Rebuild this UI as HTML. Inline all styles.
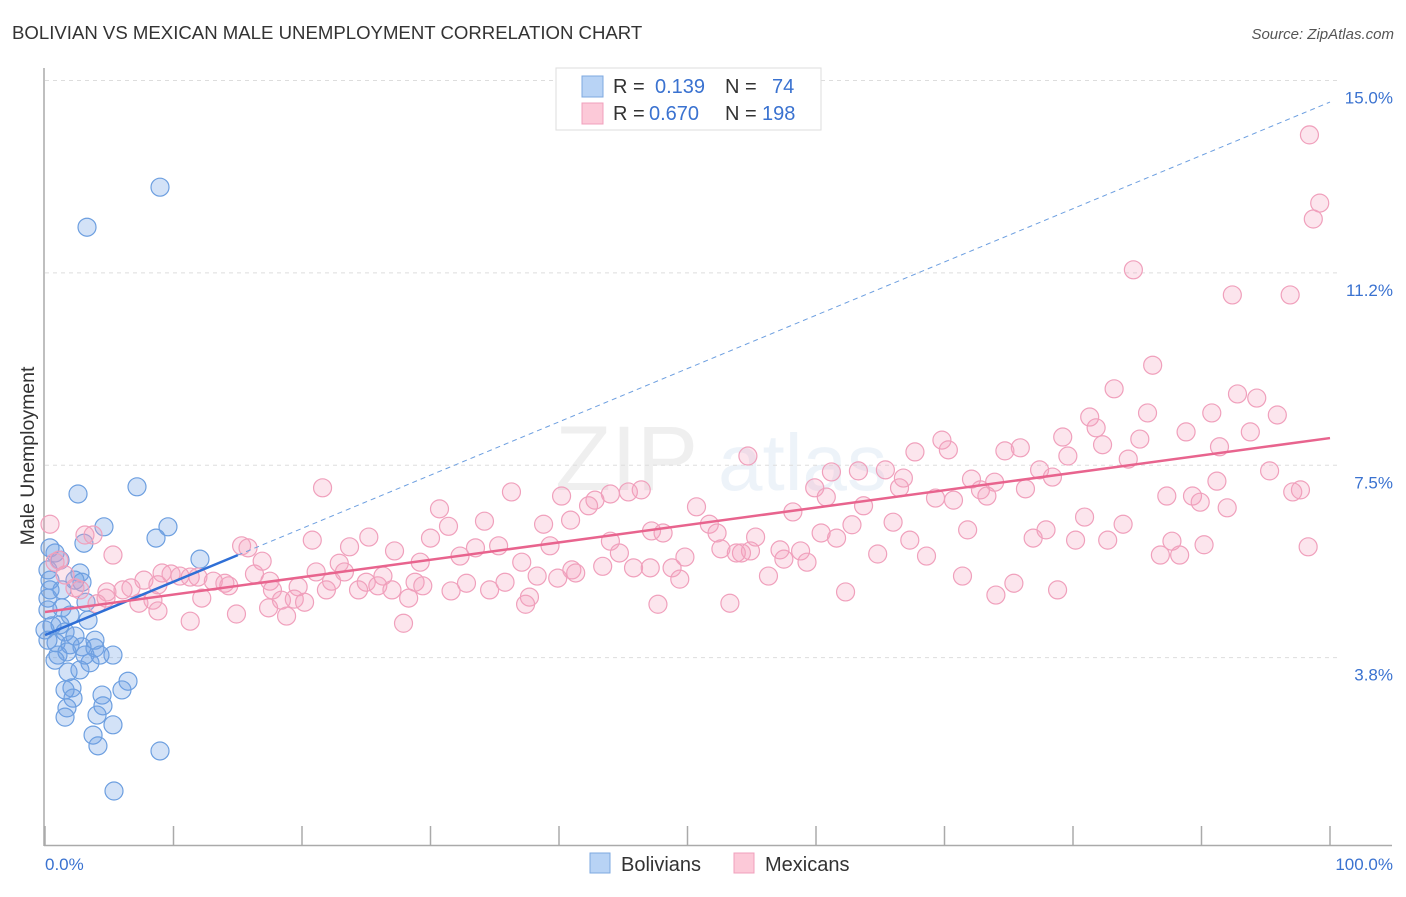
<!DOCTYPE html>
<html><head><meta charset="utf-8"><style>
body{margin:0;background:#fff;font-family:"Liberation Sans",sans-serif}
svg text{font-family:"Liberation Sans",sans-serif}
</style></head><body>
<svg id="c" width="1406" height="892" xmlns="http://www.w3.org/2000/svg">
<text x="12" y="39" font-size="18.6" fill="#333">BOLIVIAN VS MEXICAN MALE UNEMPLOYMENT CORRELATION CHART</text>
<text x="1394" y="39" font-size="15" fill="#555" font-style="italic" text-anchor="end">Source: ZipAtlas.com</text>
<g opacity="0.13"><text x="555" y="490" font-size="92" font-family="Liberation Serif" fill="#888">ZIP</text><text x="718" y="490" font-size="80" fill="#7aa7d8">atlas</text></g>
<g id="grid"></g>
<g id="axes"></g>
<g id="blue"></g>
<g id="pink"></g>
<g id="lines"></g>
<g>
<rect x="556" y="68" width="265" height="62" fill="#fff" stroke="#ddd"/>
<rect x="582" y="76" width="21" height="21" fill="#b8d3f5" stroke="#7ea8e0"/>
<rect x="582" y="103" width="21" height="21" fill="#fcc9d8" stroke="#f0a0bc"/>
<text x="613" y="93" font-size="20" fill="#333">R = </text><text x="655" y="93" font-size="20" fill="#3a72d0">0.139</text>
<text x="725" y="93" font-size="20" fill="#333">N = </text><text x="772" y="93" font-size="20" fill="#3a72d0">74</text>
<text x="613" y="120" font-size="20" fill="#333">R = </text><text x="649" y="120" font-size="20" fill="#3a72d0">0.670</text>
<text x="725" y="120" font-size="20" fill="#333">N = </text><text x="762" y="120" font-size="20" fill="#3a72d0">198</text>
</g>
<g>
<rect x="590" y="853" width="20" height="20" fill="#b8d3f5" stroke="#7ea8e0"/>
<text x="621" y="871" font-size="20" fill="#333">Bolivians</text>
<rect x="734" y="853" width="20" height="20" fill="#fcc9d8" stroke="#f0a0bc"/>
<text x="765" y="871" font-size="20" fill="#333">Mexicans</text>
</g>
<text transform="translate(34,456) rotate(-90)" font-size="19.5" fill="#333" text-anchor="middle">Male Unemployment</text>
</svg>
<script>
const yTicks=[3.75,7.5,11.25,15];
const yTickLabels=["3.8%","7.5%","11.2%","15.0%"];
const xTicks=[0,10,20,30,40,50,60,70,80,90,100];
const blueX=[8.95,3.27,2.57,7.16,4.59,9.57,8.64,3.03,12.06,0.78,1.17,0.23,2.72,2.88,0.39,1.32,3.19,0.23,0.23,1.32,3.35,0.54,1.56,2.33,3.89,0.86,1.95,2.88,3.89,5.29,1.01,1.71,3.5,1.79,2.72,6.46,2.1,1.56,5.99,4.44,2.18,4.51,1.71,4.05,1.56,5.29,3.74,4.12,8.95,5.37,0.39,0.23,0.78,3.11,4.28,1.17,1.95,0,0.39,2.33];
const blueY=[12.92,12.14,6.94,7.08,6.3,6.3,6.08,5.98,5.67,5.79,5.65,5.46,5.4,5.22,5.26,5.07,4.83,4.91,4.68,4.72,4.48,4.37,4.25,4.17,4.09,4.04,4.0,3.96,3.94,3.8,3.8,3.86,3.65,3.47,3.51,3.29,3.16,3.12,3.12,3.02,2.96,2.81,2.77,2.63,2.59,2.44,2.24,2.03,1.93,1.15,5.89,4.09,3.7,3.8,3.8,4.39,4.58,4.29,5.07,5.26];
const pinkX=[98.4,99.2,98.7,84.7,92.4,96.9,86.2,83.2,92.8,94.3,85.8,81.3,90.8,95.9,81.8,88.8,93.8,79.2,85.2,69.8,82.3,91.4,70.3,75.9,74.7,67.7,54.7,79.6,84.3,77.4,95.3,63.3,65.4,72.1,78.4,66.8,73.9,91.2,61.2,66.5,59.9,21.6,36.3,46.4,45.4,44.0,40.2,60.8,76.3,72.8,87.3,89.3,97.7,97.1,89.9,69.3,73.3,70.7,92.0,42.8,30.7,42.3,63.7,58.2,50.7,80.9,34.2,40.9,38.8,31.4,51.7,66.0,62.8,71.8,83.9,60.4,48.1,55.3,47.2,52.3,61.6,25.2,20.8,30.0,44.0,67.3,76.9,80.2,77.9,82.7,35.3,23.7,39.3,33.5,52.6,54.9,54.2,53.8,57.2,58.8,90.2,87.7,98.3,86.8,88.3,27.2,15.3,5.29,15.8,32.3,44.7,49.8,64.8,68.6,29.2,37.1,22.9,16.9,57.5,59.3,43.4,45.8,48.8,41.0,47.1,21.1,16.3,9.81,10.5,11.3,9.11,11.9,23.3,26.3,38.3,41.3,49.4,56.3,71.4,7.7,13.1,14.0,17.5,22.3,25.0,28.8,32.8,35.8,39.9,75.4,6.69,8.79,6.07,4.82,2.33,14.3,17.7,19.7,21.9,25.9,29.4,31.6,34.6,24.4,27.0,78.8,74.0,62.3,37.7,12.2,19.4,28.3,8.4,4.75,18.4,20.2,7.31,4.05,17.4,37.4,47.7,53.3,8.79,18.8,14.9,11.3,27.9,3.11,3.74,0.39,1.09,1.56,2.72,0.78];
const pinkY=[13.94,12.61,12.3,11.31,10.82,10.82,9.45,8.99,8.89,8.81,8.52,8.44,8.52,8.48,8.23,8.15,8.15,8.05,8.01,7.99,7.9,7.86,7.8,7.84,7.78,7.76,7.68,7.68,7.62,7.41,7.39,7.39,7.41,7.23,7.27,7.25,7.17,7.19,7.37,7.06,7.06,7.06,6.98,7.02,6.98,6.94,6.9,6.88,7.04,7.02,6.9,6.9,7.02,6.98,6.78,6.86,6.9,6.82,6.67,6.82,6.65,6.71,6.71,6.59,6.69,6.49,6.41,6.43,6.35,6.31,6.35,6.39,6.34,6.24,6.35,6.18,6.18,6.1,6.22,6.18,6.08,6.1,6.04,6.08,6.02,6.04,6.08,6.04,6.24,6.04,5.93,5.91,5.93,5.89,5.87,5.83,5.79,5.79,5.85,5.83,5.95,6.02,5.91,5.75,5.75,5.83,5.93,5.75,5.89,5.73,5.79,5.71,5.77,5.73,5.61,5.61,5.59,5.63,5.67,5.61,5.53,5.5,5.5,5.46,5.5,5.42,5.38,5.38,5.34,5.32,5.4,5.32,5.42,5.34,5.34,5.4,5.28,5.34,5.34,5.26,5.24,5.2,5.24,5.24,5.22,5.22,5.2,5.22,5.3,5.2,5.11,5.17,5.07,5.03,5.11,5.15,5.07,5.13,5.07,5.15,5.15,5.05,5.07,5.07,5.07,5.07,4.97,5.03,4.93,4.91,4.89,4.91,4.87,4.91,4.87,4.83,4.81,4.8,4.72,4.79,4.79,4.81,4.66,4.56,4.6,4.46,4.42,6.14,6.14,6.35,5.65,5.36,5.07,5.61];
const blueFit=[4.19,14.58];
const pinkFit=[4.64,8.03];
const NS="http://www.w3.org/2000/svg";
const X=v=>45+v*12.85, Y=v=>850-v*51.3;
function mk(p,t,a){const e=document.createElementNS(NS,t);for(const k in a)e.setAttribute(k,a[k]);document.getElementById(p).appendChild(e);return e;}
yTicks.forEach((t,i)=>{
 const l=mk('grid','line',{x1:45,x2:1340,y1:Y(t),y2:Y(t),stroke:'#ddd','stroke-dasharray':'4,4'});
 
 
 const tx=mk('grid','text',{x:1393,y:Y(t)+23,'font-size':17,fill:'#3a72d0','text-anchor':'end'});
 tx.textContent=yTickLabels[i];
 
 
});
mk('axes','line',{x1:44,x2:44,y1:68,y2:846,stroke:'#aaa','stroke-width':1.5});
mk('axes','line',{x1:44,x2:1392,y1:845.5,y2:845.5,stroke:'#aaa','stroke-width':1.5});
xTicks.forEach(t=>{const l=mk('axes','line',{x1:X(t),x2:X(t),y1:826,y2:845,stroke:'#aaa','stroke-width':1.5});
 
 });
let a=mk('axes','text',{x:45,y:870,'font-size':17,fill:'#3a72d0'});a.textContent='0.0%';

a=mk('axes','text',{x:1393,y:870,'font-size':17,fill:'#3a72d0','text-anchor':'end'});a.textContent='100.0%';

blueX.forEach((x,i)=>{const c=mk('blue','circle',{cx:X(x),cy:Y(blueY[i]),r:9,fill:'rgba(110,160,230,0.3)',stroke:'#6d9fe0','stroke-width':1.2});
 
 });
pinkX.forEach((x,i)=>{const c=mk('pink','circle',{cx:X(x),cy:Y(pinkY[i]),r:9,fill:'rgba(245,160,190,0.28)',stroke:'#f0a0bc','stroke-width':1.2});
 
 });
const bf=x=>blueFit[0]+(blueFit[1]-blueFit[0])*x/100, pf=x=>pinkFit[0]+(pinkFit[1]-pinkFit[0])*x/100;
let l=mk('lines','line',{x1:X(15),y1:Y(bf(15)),x2:X(100),y2:Y(bf(100)),stroke:'#6d9fe0','stroke-width':1,'stroke-dasharray':'5,4'});

l=mk('lines','line',{x1:X(0),y1:Y(bf(0)),x2:X(15),y2:Y(bf(15)),stroke:'#2f6fd6','stroke-width':2.5});

l=mk('lines','line',{x1:X(0),y1:Y(pf(0)),x2:X(100),y2:Y(pf(100)),stroke:'#e8648e','stroke-width':2.5});

</script>
</body></html>
